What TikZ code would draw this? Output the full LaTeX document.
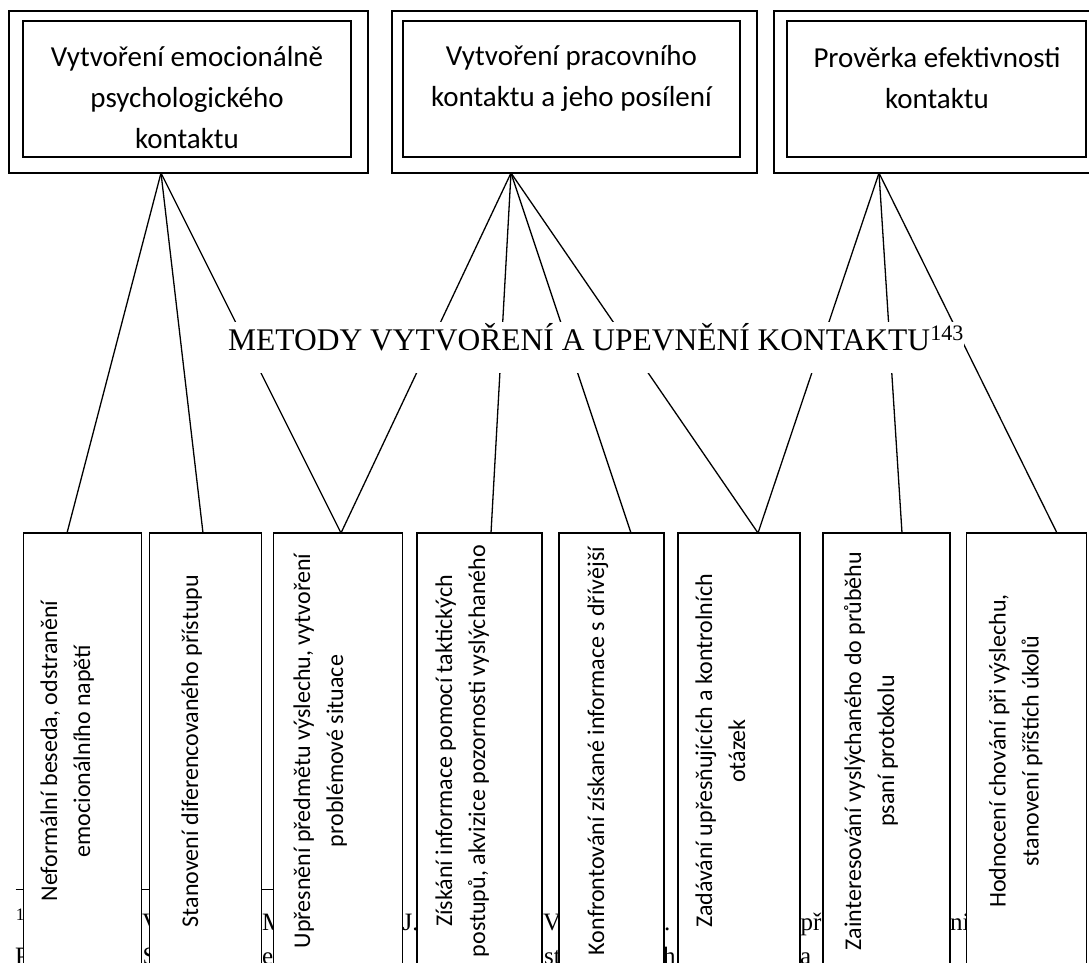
\documentclass[tikz,border=0pt]{standalone}
\usepackage{fontspec}
\setmainfont{Liberation Serif}
\newfontfamily\calfont{Carlito}
\begin{document}
\begin{tikzpicture}[x=1pt,y=-1pt,
  frame/.style={draw, line width=1.5pt, minimum width=#1, inner sep=0pt, outer sep=0pt},
  conn/.style={draw, line width=1.3pt},
  toptext/.style={align=center, font=\calfont\fontsize{29}{41}\selectfont, inner sep=0pt},
  bottext/.style={rotate=90, anchor=base, font=\calfont\fontsize{24}{33}\selectfont, inner sep=0pt},
  btbox/.style={draw, fill=white, line width=1.4pt, inner sep=0pt, outer sep=0pt, minimum height=447pt, minimum width=#1},
  foot/.style={font=\fontsize{25}{30}\selectfont, inner sep=0pt, anchor=base west}
]
\useasboundingbox (0,0) rectangle (1089,963);
\clip (0,0) rectangle (1089,963);
\fill[white] (0,0) rectangle (1089,963);

% footnote (mostly hidden by the boxes)
\coordinate (fsa) at (15.6,889);
\coordinate (fsb) at (300,889);
\draw[line width=0.9pt] (fsa) -- (fsb);
\node[foot] (f1) at (15.6,930) {\textsuperscript{1}};
\node[foot] (f2) at (142,930) {V};
\node[foot] (f3) at (262,930) {M};
\node[foot] (f4) at (402.5,930) {J.};
\node[foot] (f5) at (543,930) {V};
\node[foot] (f8) at (664,930) {.};
\node[foot] (f6) at (800.5,930) {př};
\node[foot] (f7) at (950,930) {ni};
\node[foot] (g1) at (15,964) {P};
\node[foot] (g2) at (142.5,964) {S};
\node[foot] (g3) at (262,964) {e};
\node[foot] (g4) at (544,964) {st};
\node[foot] (g5) at (663,964) {h};
\node[foot] (g6) at (800,964) {a};

% top boxes
\node[frame=359pt, minimum height=162pt] (o1) at (188.5,92) {};
\node[frame=328pt, minimum height=136pt] (i1) at (187,89) {};
\node[frame=365pt, minimum height=162pt] (o2) at (574.5,92) {};
\node[frame=337pt, minimum height=136pt] (i2) at (571.5,89) {};
\node[frame=340pt, minimum height=162pt] (o3) at (944,92) {};
\node[frame=299pt, minimum height=136pt] (i3) at (936.5,89) {};
\node[toptext] (t1) at (187,98) {Vytvoření emocionálně\\psychologického\\kontaktu};
\node[toptext] (t2) at (571.5,78) {Vytvoření pracovního\\kontaktu a jeho posílení};
\node[toptext] (t3) at (937,78) {Prověrka efektivnosti\\kontaktu};

% bottom boxes
\node[btbox=118pt] (b1) at (82.7,756.5) {};
\node[btbox=112pt] (b2) at (205.5,756.5) {};
\node[btbox=129pt] (b3) at (337.7,756.5) {};
\node[btbox=125pt] (b4) at (479.6,756.5) {};
\node[btbox=105pt] (b5) at (611.4,756.5) {};
\node[btbox=122pt] (b6) at (738.8,756.5) {};
\node[btbox=127pt] (b7) at (886.5,756.5) {};
\node[btbox=120pt] (b8) at (1026.6,756.5) {};

\node[bottext] (l1a) at (57,751) {Neformální beseda, odstranění};
\node[bottext] (l1b) at (90,751) {emocionálního napětí};
\node[bottext] (l2a) at (198,751) {Stanovení diferencovaného přístupu};
\node[bottext] (l3a) at (310,751) {Upřesnění předmětu výslechu, vytvoření};
\node[bottext] (l3b) at (343,751) {problémové situace};
\node[bottext] (l4a) at (452,751) {Získání informace pomocí taktických};
\node[bottext] (l4b) at (485,751) {postupů, akvizice pozornosti vyslýchaného};
\node[bottext] (l5a) at (604,751) {Konfrontování získané informace s dřívější};
\node[bottext] (l6a) at (712,751) {Zadávání upřesňujících a kontrolních};
\node[bottext] (l6b) at (745,751) {otázek};
\node[bottext] (l7a) at (861,751) {Zainteresování vyslýchaného do průběhu};
\node[bottext] (l7b) at (894,751) {psaní protokolu};
\node[bottext] (l8a) at (1005.5,751) {Hodnocení chování při výslechu,};
\node[bottext] (l8b) at (1038.5,751) {stanovení příštích úkolů};

% connector end points
\coordinate (s1) at (161,173);
\coordinate (s2) at (511,173);
\coordinate (s3) at (879,173);
\coordinate (e1) at (67,533);
\coordinate (e2) at (203,533);
\coordinate (e3) at (341,533);
\coordinate (e4) at (491,533);
\coordinate (e5) at (631,533);
\coordinate (e6) at (758,533);
\coordinate (e7) at (902,533);
\coordinate (e8) at (1057,533);

\draw[conn] (s1) -- (e1);
\draw[conn] (s1) -- (e2);
\draw[conn] (s1) -- (e3);
\draw[conn] (s2) -- (e3);
\draw[conn] (s2) -- (e4);
\draw[conn] (s2) -- (e5);
\draw[conn] (s2) -- (e6);
\draw[conn] (s3) -- (e6);
\draw[conn] (s3) -- (e7);
\draw[conn] (s3) -- (e8);

% title with white background
\node[fill=white, inner sep=0pt, minimum width=727pt, minimum height=51pt,
  text height=28pt, text depth=23pt,
  font=\fontsize{31.5}{36}\selectfont] (title) at (596,347.5)
  {METODY VYTVOŘENÍ A UPEVNĚNÍ KONTAKTU\textsuperscript{143}};
\end{tikzpicture}
\end{document}
